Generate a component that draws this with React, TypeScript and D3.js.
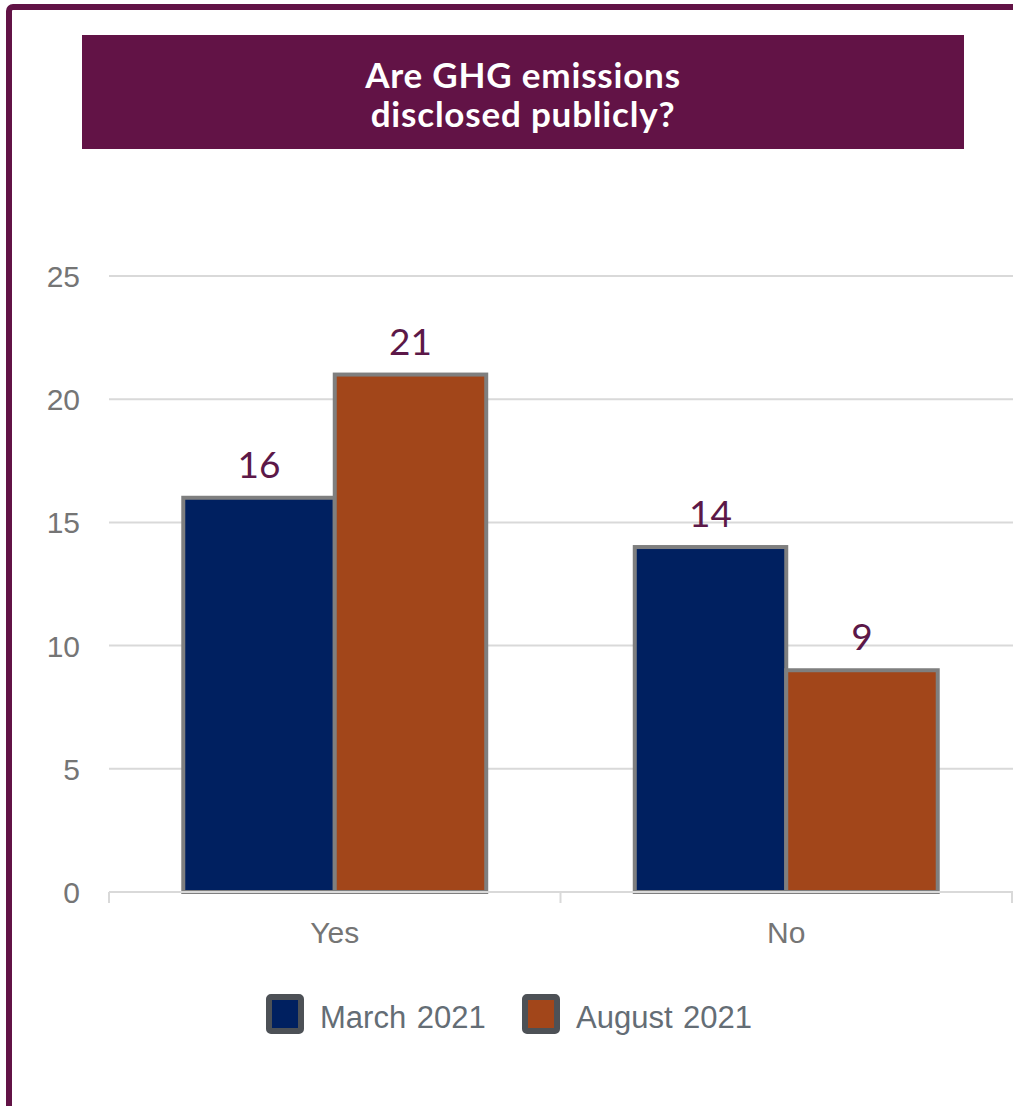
import React, { useEffect, useRef } from "react";
import * as d3 from "d3";

const categories = ["Yes", "No"];
const seriesNames = ["March 2021", "August 2021"];
const march2021 = [16, 14];
const august2021 = [21, 9];
const yTicks = [0, 5, 10, 15, 20, 25];
const titleLines = ["Are GHG emissions", "disclosed publicly?"];

const seriesColors = ["#002060", "#a2461a"];
const purple = "#621346";

function App() {
  const ref = useRef<SVGSVGElement>(null);

  useEffect(() => {
    const svg = d3.select(ref.current);
    svg.selectAll("*").remove();

    const width = 1013;
    const height = 1106;
    const left = 109;
    const right = 1012;
    const top = 276;
    const bottom = 892;

    // frame
    svg
      .append("rect")
      .attr("x", 9)
      .attr("y", 7)
      .attr("width", width + 20)
      .attr("height", height + 20)
      .attr("rx", 4)
      .attr("fill", "white")
      .attr("stroke", purple)
      .attr("stroke-width", 6);

    // title box
    svg
      .append("rect")
      .attr("x", 82)
      .attr("y", 35)
      .attr("width", 882)
      .attr("height", 114)
      .attr("fill", purple);

    svg
      .append("g")
      .selectAll("text")
      .data(titleLines)
      .join("text")
      .attr("x", 523)
      .attr("y", (d, i) => 88 + i * 39)
      .attr("text-anchor", "middle")
      .attr("fill", "white")
      .attr("font-family", "Lato, 'Open Sans', sans-serif")
      .attr("font-weight", "bold")
      .attr("font-size", 35)
      .attr("letter-spacing", 0.8)
      .text((d) => d);

    const y = d3.scaleLinear().domain([0, 25]).range([bottom, top]);
    const x0 = d3
      .scaleBand()
      .domain(categories)
      .range([left, right])
      .paddingInner(0.329)
      .paddingOuter(0.1645);
    const x1 = d3
      .scaleBand()
      .domain(seriesNames)
      .range([0, x0.bandwidth()]);

    // gridlines
    svg
      .append("g")
      .selectAll("line")
      .data(yTicks.filter((t) => t > 0))
      .join("line")
      .attr("x1", left)
      .attr("x2", width)
      .attr("y1", (d) => y(d))
      .attr("y2", (d) => y(d))
      .attr("stroke", "#d9d9d9")
      .attr("stroke-width", 2);

    // y labels
    svg
      .append("g")
      .selectAll("text")
      .data(yTicks)
      .join("text")
      .attr("x", 80)
      .attr("y", (d) => y(d) + 11)
      .attr("text-anchor", "end")
      .attr("fill", "#757575")
      .attr("font-family", "Arial, 'Liberation Sans', sans-serif")
      .attr("font-size", 30)
      .text((d) => d);

    // bars
    const values = [march2021, august2021];
    const groups = svg
      .append("g")
      .selectAll("g")
      .data(categories)
      .join("g")
      .attr("transform", (d) => `translate(${x0(d)},0)`);

    groups
      .selectAll("rect")
      .data((d, ci) => seriesNames.map((s, si) => ({ s, si, v: values[si][ci] })))
      .join("rect")
      .attr("x", (d) => x1(d.s)!)
      .attr("y", (d) => y(d.v))
      .attr("width", x1.bandwidth())
      .attr("height", (d) => bottom - y(d.v))
      .attr("fill", (d) => seriesColors[d.si])
      .attr("stroke", "#7f7f7f")
      .attr("stroke-width", 4);

    groups
      .selectAll("text")
      .data((d, ci) => seriesNames.map((s, si) => ({ s, si, v: values[si][ci] })))
      .join("text")
      .attr("x", (d) => x1(d.s)! + x1.bandwidth() / 2)
      .attr("y", (d) => y(d.v) - 20)
      .attr("text-anchor", "middle")
      .attr("fill", "#5c1848")
      .attr("font-family", "Lato, 'Open Sans', sans-serif")
      .attr("font-size", 37)
      .text((d) => d.v);

    // x axis
    const axis = svg.append("g");
    axis
      .append("line")
      .attr("x1", left)
      .attr("x2", width)
      .attr("y1", bottom)
      .attr("y2", bottom)
      .attr("stroke", "#d9d9d9")
      .attr("stroke-width", 2);
    const tickXs = [left, (left + right) / 2, right];
    axis
      .selectAll("line.tick")
      .data(tickXs)
      .join("line")
      .attr("class", "tick")
      .attr("x1", (d) => d)
      .attr("x2", (d) => d)
      .attr("y1", bottom)
      .attr("y2", bottom + 11)
      .attr("stroke", "#d9d9d9")
      .attr("stroke-width", 2);

    axis
      .selectAll("text")
      .data(categories)
      .join("text")
      .attr("x", (d) => x0(d)! + x0.bandwidth() / 2)
      .attr("y", 943)
      .attr("text-anchor", "middle")
      .attr("fill", "#757575")
      .attr("font-family", "Arial, 'Liberation Sans', sans-serif")
      .attr("font-size", 30)
      .text((d) => d);

    // legend
    const legendX = [266, 522];
    const legend = svg
      .append("g")
      .selectAll("g")
      .data(seriesNames)
      .join("g")
      .attr("transform", (d, i) => `translate(${legendX[i]},994)`);
    legend
      .append("rect")
      .attr("x", 3)
      .attr("y", 3)
      .attr("width", 32)
      .attr("height", 34)
      .attr("rx", 2)
      .attr("fill", (d, i) => seriesColors[i])
      .attr("stroke", "#4d5156")
      .attr("stroke-width", 6);
    legend
      .append("text")
      .attr("x", 54)
      .attr("y", 34)
      .attr("fill", "#646d75")
      .attr("font-family", "Arial, 'Liberation Sans', sans-serif")
      .attr("font-size", 31)
      .attr("word-spacing", 2)
      .text((d) => d);
  }, []);

  return (
    <svg
      ref={ref}
      width={1013}
      height={1106}
      style={{ position: "absolute", left: 0, top: 0, background: "white" }}
    />
  );
}

export default App;
